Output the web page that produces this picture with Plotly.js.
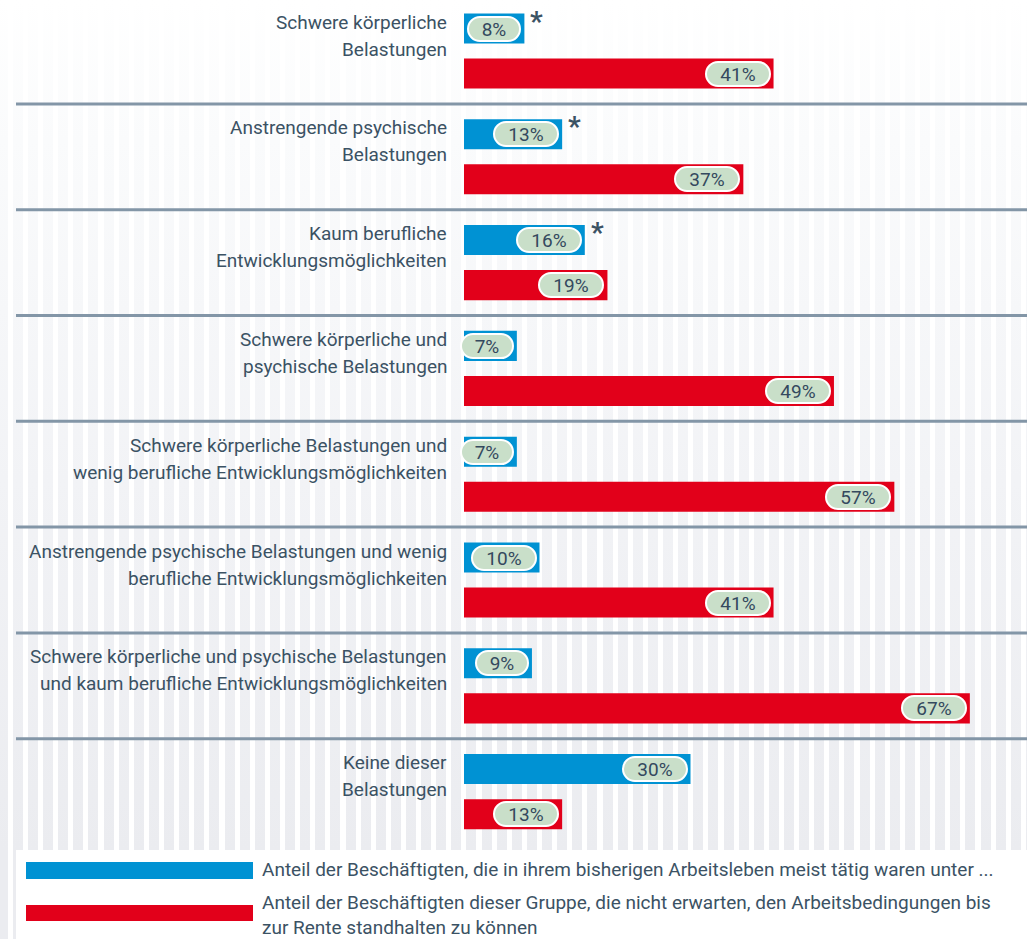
<!DOCTYPE html>
<html>
<head>
<meta charset="utf-8">
<script src="https://cdn.plot.ly/plotly-3.0.1.min.js"></script>
<style>
html,body{margin:0;padding:0;}
body{
  width:1027px;height:939px;overflow:hidden;
  background:
    repeating-linear-gradient(90deg, rgba(255,255,255,0) 0px, rgba(255,255,255,0) 7.76px, #ffffff 7.76px, #ffffff 12.88px, rgba(255,255,255,0) 12.88px, rgba(255,255,255,0) 15.12px),
    linear-gradient(to bottom, #ffffff 0px, #fafbfc 140px, #f2f3f6 480px, #ebecf0 850px);
}
#chart{width:1027px;height:939px;}
</style>
</head>
<body>
<div id="chart"></div>
<script>
// ---- data ----
const categories = [
  "Schwere körperliche<br>Belastungen",
  "Anstrengende psychische<br>Belastungen",
  "Kaum berufliche<br>Entwicklungsmöglichkeiten",
  "Schwere körperliche und<br>psychische Belastungen",
  "Schwere körperliche Belastungen und<br>wenig berufliche Entwicklungsmöglichkeiten",
  "Anstrengende psychische Belastungen und wenig<br>berufliche Entwicklungsmöglichkeiten",
  "Schwere körperliche und psychische Belastungen<br>und kaum berufliche Entwicklungsmöglichkeiten",
  "Keine dieser<br>Belastungen"
];
const blueValues = [8, 13, 16, 7, 7, 10, 9, 30];
const redValues  = [41, 37, 19, 49, 57, 41, 67, 13];
const asterisk   = [true, true, true, false, false, false, false, false];
const blueName = "Anteil der Beschäftigten, die in ihrem bisherigen Arbeitsleben meist tätig waren unter ...";
const redName  = "Anteil der Beschäftigten dieser Gruppe, die nicht erwarten, den Arbeitsbedingungen bis<br>zur Rente standhalten zu können";

// ---- style ----
const BLUE = "#0092d3", RED = "#e2001a", TXT = "#3b5264";
const W = 1027, H = 939, ML = 464, MB = 95;
const PW = W - ML, PH = H - MB;
const px = p => (p - ML) / PW;
const py = p => (PH - p) / PH;

const traces = [
  {type:"bar", orientation:"h", y:categories, x:blueValues, name:blueName,
   marker:{color:BLUE}, hoverinfo:"skip", showlegend:false},
  {type:"bar", orientation:"h", y:categories, x:redValues, name:redName,
   marker:{color:RED}, hoverinfo:"skip", showlegend:false}
];

const annotations = [];
const shapes = [];

// white legend panel
shapes.push({type:"rect", xref:"paper", yref:"paper", x0:px(16), x1:1.01, y0:py(960), y1:py(850),
  fillcolor:"#ffffff", line:{width:0}, layer:"below"});
// separators
for (let i = 0; i < categories.length - 1; i++) {
  shapes.push({type:"line", xref:"paper", yref:"y", x0:px(16), x1:1.01, y0:i+0.5, y1:i+0.5,
    line:{color:"#8396a7", width:3}, layer:"below"});
}
// legend swatches
shapes.push({type:"rect", xref:"paper", yref:"paper", x0:px(26), x1:px(253), y0:py(879), y1:py(862),
  fillcolor:BLUE, line:{width:0}});
shapes.push({type:"rect", xref:"paper", yref:"paper", x0:px(26), x1:px(253), y0:py(921), y1:py(905),
  fillcolor:RED, line:{width:0}});

const labelFont = {family:"Roboto, sans-serif", size:19, color:TXT};
const pillFont = {family:"Roboto, sans-serif", size:19, color:"#34495e"};

categories.forEach((c, i) => {
  const lines = c.split("<br>");
  lines.forEach((ln, k) => {
    annotations.push({xref:"paper", yref:"y", x:0, y:c, xanchor:"right", yanchor:"middle",
      xshift:-15, yshift:29 - 27*k, align:"right", showarrow:false, text:ln, font:labelFont});
  });
  [[blueValues[i], 22.5], [redValues[i], -22.5]].forEach(([v, ys]) => {
    const t = v + "%";
    annotations.push({xref:"x", yref:"y", x:v, y:c, xanchor:"right", yanchor:"middle",
      xshift:-3, yshift:ys, showarrow:false, text:t, font:pillFont,
      bgcolor:"#c9dfc9", bordercolor:"#ffffff", borderwidth:2, borderpad:2,
      width:12*t.length + 22, height:18, align:"center", captureevents:false});
  });
  if (asterisk[i]) {
    annotations.push({xref:"x", yref:"y", x:blueValues[i], y:c, xanchor:"left", yanchor:"middle",
      xshift:4, yshift:30, showarrow:false, text:"<b>*</b>",
      font:{family:"Roboto, sans-serif", size:28, color:TXT}});
  }
});

// legend texts
const legFont = {family:"Roboto, sans-serif", size:19, color:TXT};
annotations.push({xref:"paper", yref:"paper", x:px(260), y:py(869), xanchor:"left", yanchor:"middle",
  showarrow:false, align:"left", text:blueName, font:legFont});
annotations.push({xref:"paper", yref:"paper", x:px(260), y:py(915), xanchor:"left", yanchor:"middle",
  showarrow:false, align:"left", text:redName, font:legFont});

const layout = {
  width:W, height:H,
  margin:{l:ML, r:0, t:0, b:MB, pad:0},
  paper_bgcolor:"rgba(0,0,0,0)", plot_bgcolor:"rgba(0,0,0,0)",
  barmode:"group", bargap:0.148, bargroupgap:0.333,
  xaxis:{range:[0, 74.57], visible:false, fixedrange:true},
  yaxis:{type:"category", range:[7.495, -0.482], visible:false, fixedrange:true},
  showlegend:false,
  shapes:shapes, annotations:annotations
};

Plotly.newPlot("chart", traces, layout, {displayModeBar:false, staticPlot:true}).then(gd => {
  gd.querySelectorAll(".annotation rect.bg").forEach(r => {
    const h = parseFloat(r.getAttribute("height"));
    const w = parseFloat(r.getAttribute("width"));
    if (h < 40 && w < 80 && r.getAttribute("style") && r.getAttribute("style").indexOf("201, 223, 201") >= 0) {
      r.setAttribute("rx", h / 2);
      r.setAttribute("ry", h / 2);
    }
  });
});
</script>
</body>
</html>
